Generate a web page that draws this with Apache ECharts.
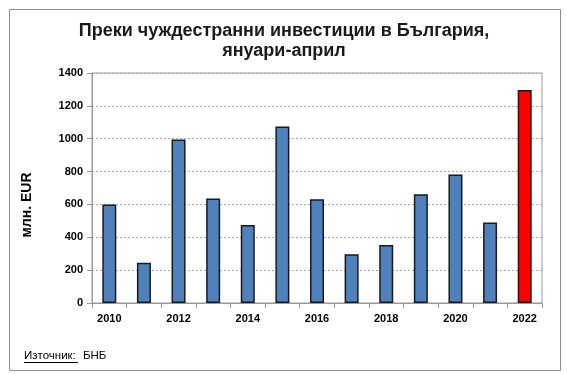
<!DOCTYPE html>
<html>
<head>
<meta charset="utf-8">
<script src="https://cdn.jsdelivr.net/npm/echarts@6/dist/echarts.min.js"></script>
<style>
html,body{margin:0;padding:0;background:#fff;}
#c{width:567px;height:374px;}
</style>
</head>
<body>
<div id="c"></div>
<script>
const categories = ['2010','2011','2012','2013','2014','2015','2016','2017','2018','2019','2020','2021','2022'];
const values = [600, 245, 995, 636, 475, 1075, 632, 297, 353, 662, 782, 490, 1296];
const yTicks = [0, 200, 400, 600, 800, 1000, 1200, 1400];
const titleLines = ['Преки чуждестранни инвестиции в България,', 'януари-април'];
const yAxisTitle = 'млн. EUR';
const sourceLabel = 'Източник:';
const sourceValue = 'БНБ';

const chart = echarts.init(document.getElementById('c'), null, {renderer: 'canvas'});
const lastIdx = values.length - 1;
chart.setOption({
  animation: false,
  backgroundColor: '#fff',
  grid: {left: 92, right: 25, top: 73, bottom: 71, show: true, borderColor: '#999', borderWidth: 1, backgroundColor: 'transparent'},
  xAxis: {
    type: 'category',
    data: categories,
    boundaryGap: true,
    axisLine: {show: true, lineStyle: {color: '#999', width: 1}},
    axisTick: {show: true, interval: 0, length: 5, lineStyle: {color: '#999'}},
    axisLabel: {interval: 1, margin: 10, fontFamily: 'Liberation Sans, Arial', fontWeight: 'bold', fontSize: 11, color: '#000'}
  },
  yAxis: {
    type: 'value',
    min: yTicks[0], max: yTicks[yTicks.length - 1], interval: 200,
    axisLine: {show: true, lineStyle: {color: '#999', width: 1}},
    axisTick: {show: true, length: 5, lineStyle: {color: '#999'}},
    splitLine: {show: true, lineStyle: {color: '#aaa', type: [2, 2], width: 1}},
    axisLabel: {margin: 9, fontFamily: 'Liberation Sans, Arial', fontWeight: 'bold', fontSize: 11, color: '#000', formatter: v => String(v)}
  },
  series: [{
    type: 'bar',
    barWidth: 14,
    data: values.map((v, i) => ({
      value: v,
      itemStyle: {color: i === lastIdx ? '#FF0000' : '#4F81BD', borderColor: '#1a1a1a', borderWidth: 1.5}
    }))
  }],
  graphic: [
    {type: 'rect', left: 7, top: 7, shape: {x: 0, y: 0, width: 551, height: 361}, style: {fill: 'none', stroke: '#8c8c8c', lineWidth: 1}, silent: true, z: -1},
    {type: 'text', x: 284, y: 31, style: {text: titleLines[0], font: 'bold 18px "Liberation Sans", Arial', fill: '#1a1a1a', align: 'center', verticalAlign: 'middle'}},
    {type: 'text', x: 284, y: 51, style: {text: titleLines[1], font: 'bold 18px "Liberation Sans", Arial', fill: '#1a1a1a', align: 'center', verticalAlign: 'middle'}},
    {type: 'text', x: 27, y: 205, rotation: Math.PI / 2, style: {text: yAxisTitle, font: 'bold 14px "Liberation Sans", Arial', fill: '#000', align: 'center', verticalAlign: 'middle'}},
    {type: 'text', x: 24, y: 356, style: {text: sourceLabel, font: '11.5px "Liberation Sans", Arial', fill: '#000', align: 'left', verticalAlign: 'middle'}},
    {type: 'line', shape: {x1: 24, y1: 362.5, x2: 78, y2: 362.5}, style: {stroke: '#000', lineWidth: 1}},
    {type: 'text', x: 83, y: 356, style: {text: sourceValue, font: '11.5px "Liberation Sans", Arial', fill: '#000', align: 'left', verticalAlign: 'middle'}}
  ]
});
</script>
</body>
</html>
